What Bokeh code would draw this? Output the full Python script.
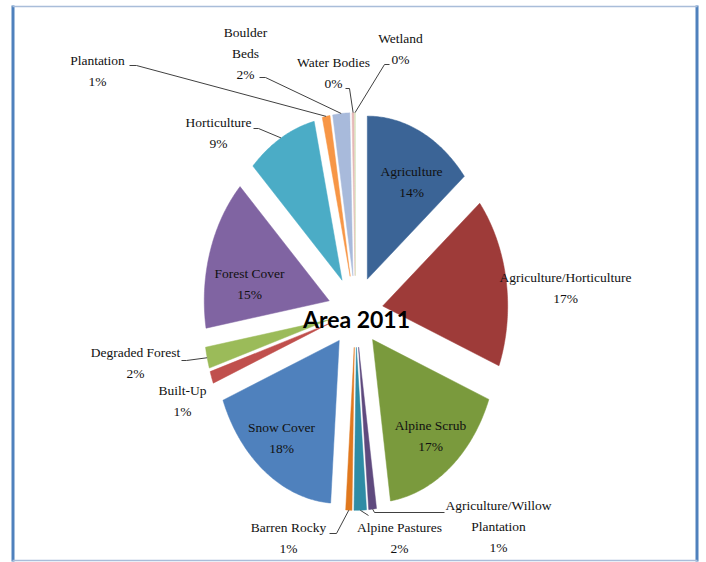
import numpy as np
from bokeh.plotting import figure
from bokeh.models import Range1d, ColumnDataSource
from bokeh.embed import file_html
from bokeh.resources import INLINE
from bokeh.core.properties import value

# ---------------- data (clockwise from 12 o'clock) ----------------
categories = ["Agriculture", "Agriculture/Horticulture", "Alpine Scrub",
              "Agriculture/Willow Plantation", "Alpine Pastures", "Barren Rocky",
              "Snow Cover", "Built-Up", "Degraded Forest", "Forest Cover",
              "Horticulture", "Plantation", "Boulder Beds", "Water Bodies", "Wetland"]
shares = [14.2, 16.9, 16.8, 1.0, 1.6, 0.8, 18.0, 1.2, 2.1, 15.1, 9.1, 1.0, 2.2, 0.3, 0.1]
colors = ["#3B6496", "#9E3B39", "#7A9A3D", "#5F4A7E", "#2F8CA5", "#E0781E",
          "#4F81BD", "#C0504D", "#9BBB59", "#8064A2", "#4BACC6", "#F79646",
          "#A8BADB", "#E6B9B8", "#D7E4BD"]
# label text lines (category name split as in the chart)
label_names = [["Agriculture"], ["Agriculture/Horticulture"], ["Alpine Scrub"],
               ["Agriculture/Willow", "Plantation"], ["Alpine Pastures"], ["Barren Rocky"],
               ["Snow Cover"], ["Built-Up"], ["Degraded Forest"], ["Forest Cover"],
               ["Horticulture"], ["Plantation"], ["Boulder", "Beds"], ["Water Bodies"], ["Wetland"]]
title_text = "Area 2011"

# ---------------- layout / style ----------------
CX, CY, RX, RY, EXPLODE = 355.0, 311.0, 125.0, 163.0, 0.22
LINE_GAP = 21.0
# label block anchor: (x center, y of first line)
label_pos = [(411, 171), (565, 277), (430, 425), (498, 505), (399, 527), (288, 527),
             (281, 427), (182, 390), (135, 352), (249, 273), (218, 122), (97, 60),
             (245, 32), (333, 62), (400, 38)]
# leader lines: label-side points; the slice end is computed from the data
leaders = {3: [(444, 512), (374, 512)], 4: [(368, 515)], 5: [(329, 533), (336, 533)],
           8: [(181, 360), (186, 360)], 10: [(253, 128), (258, 128)],
           11: [(129, 65), (136, 65)], 12: [(259, 77), (265, 77)],
           13: [(345, 88), (349, 88)], 14: [(389, 64), (384, 64)]}

W, H = 706, 562
p = figure(width=W, height=H, x_range=Range1d(0, W), y_range=Range1d(H, 0),
           output_backend="svg", toolbar_location=None, min_border=0)
p.axis.visible = False
p.grid.visible = False
p.outline_line_color = None
p.background_fill_color = "white"
p.border_fill_color = "white"

# ---------------- slices ----------------
vals = np.array(shares, dtype=float)
frac = vals / vals.sum()
cum = np.concatenate([[0.0], np.cumsum(frac)])
xs, ys, outer = [], [], []
for i in range(len(vals)):
    a0 = np.pi / 2 - 2 * np.pi * cum[i]
    a1 = np.pi / 2 - 2 * np.pi * cum[i + 1]
    m = 0.5 * (a0 + a1)
    ax = CX + EXPLODE * RX * np.cos(m)
    ay = CY - EXPLODE * RY * np.sin(m)
    t = np.linspace(a0, a1, max(4, int(abs(a1 - a0) * 80) + 2))
    xs.append([ax] + list(ax + RX * np.cos(t)))
    ys.append([ay] + list(ay - RY * np.sin(t)))
    outer.append((ax + RX * np.cos(m), ay - RY * np.sin(m)))

p.patches(xs=xs, ys=ys, fill_color=colors, line_color=colors, line_width=0.5)

# ---------------- leader lines ----------------
lx, ly = [], []
for i, pts in leaders.items():
    pts = list(pts) + [outer[i]]
    lx.append([q[0] for q in pts])
    ly.append([q[1] for q in pts])
p.multi_line(xs=lx, ys=ly, line_color="#404040", line_width=1)

# ---------------- labels ----------------
tx, ty, tt = [], [], []
for i, names in enumerate(label_names):
    pct = "%d%%" % int(round(frac[i] * 100))
    lines = names + [pct]
    x0, y0 = label_pos[i]
    for k, s in enumerate(lines):
        tx.append(x0)
        ty.append(y0 + k * LINE_GAP)
        tt.append(s)
src = ColumnDataSource(dict(x=tx, y=ty, text=tt))
p.text(x="x", y="y", text="text", source=src, text_font=value("Liberation Serif"),
       text_font_size="13.5px", text_color="#111111", text_align="center",
       text_baseline="middle")

p.text(x=[356], y=[318], text=[title_text], text_font=value("Lato"),
       text_font_size="23px", text_font_style="bold", text_color="#000000",
       text_align="center", text_baseline="middle")

# ---------------- frame ----------------
p.segment(x0=[12.5, 696.5], y0=[5, 5], x1=[12.5, 696.5], y1=[561, 561],
          line_color="#4F81BD", line_width=3)
p.segment(x0=[12, 12], y0=[6, 560], x1=[697, 697], y1=[6, 560],
          line_color="#A9BDD9", line_width=1.5)

open("out.html", "w").write(file_html(p, INLINE))
